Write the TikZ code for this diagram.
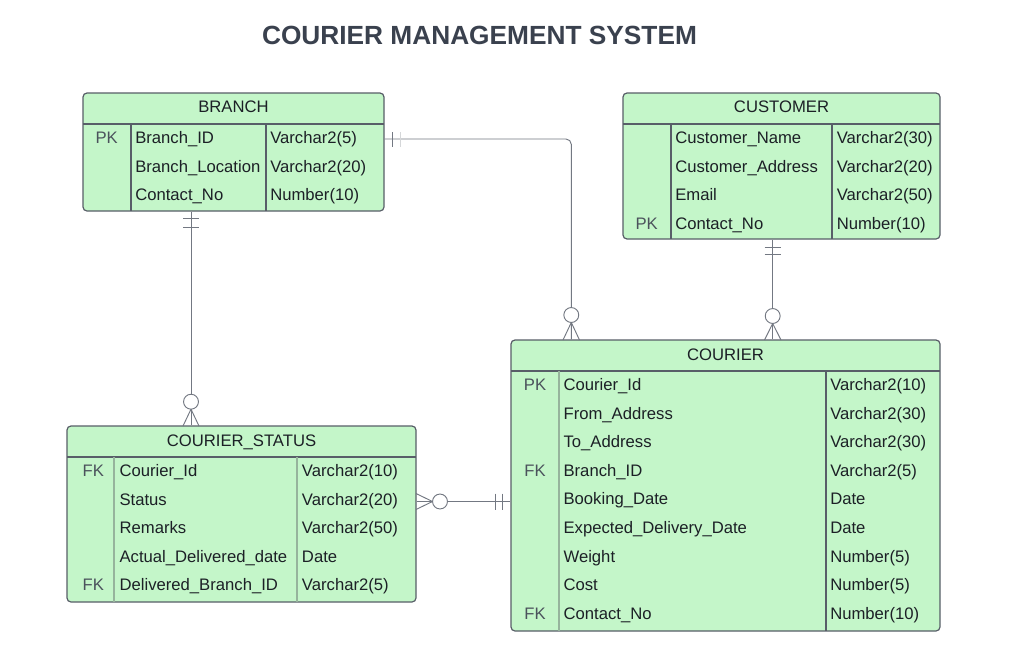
\documentclass[tikz,border=0pt]{standalone}
\usepackage{fontspec}
\setmainfont{Liberation Sans}
\usetikzlibrary{fit}
\definecolor{tblfill}{RGB}{196,246,201}
\definecolor{tblline}{RGB}{88,94,104}
\definecolor{faint}{RGB}{150,180,156}
\definecolor{connc}{RGB}{115,120,130}
\definecolor{txt}{RGB}{28,32,38}
\definecolor{keytxt}{RGB}{75,82,92}
\definecolor{titlec}{RGB}{58,65,78}
\begin{document}
\begin{tikzpicture}[x=0.75pt,y=-0.75pt,
  font=\fontsize{12.5}{15}\selectfont,
  tbl/.style={draw=tblline, fill=tblfill, line width=0.9pt, rounded corners=3pt, inner sep=0pt},
  sep/.style={draw=tblline, line width=0.8pt},
  fsep/.style={draw=faint, line width=0.8pt},
  ktext/.style={anchor=base, inner sep=0pt, text=keytxt},
  ntext/.style={anchor=base west, inner sep=0pt, text=txt},
  htext/.style={anchor=base, inner sep=0pt, text=txt},
  conn/.style={draw=connc, line width=0.7pt},
  bar/.style={draw=connc, line width=0.7pt},
  ring/.style={draw=connc, line width=0.7pt, fill=white}
]
\fill[white] (0,0) rectangle (1015,661);
\useasboundingbox (0,0) rectangle (1015,661);

% title
\node[font={\fontsize{19.7}{24}\selectfont\bfseries}, text=titlec, anchor=base, inner sep=0pt] (title) at (479.5,44) {COURIER MANAGEMENT SYSTEM};

% ---------- BRANCH ----------
\node[tbl, fit={(83,93)(384,211)}] (branch) {};
\draw[sep] (83,124) -- (384,124);
\draw[sep] (131,124) -- (131,211);
\draw[sep] (266,124) -- (266,211);
\node[htext] (branch-h) at (233.5,112.5) {BRANCH};
\foreach \k/\n/\t [count=\i] in {PK/Branch\_ID/Varchar2(5), /Branch\_Location/Varchar2(20), /Contact\_No/Number(10)} {
  \pgfmathsetmacro\yy{143.5+(\i-1)*28.6}
  \node[ktext] (br-k\i) at (106.7,\yy) {\k};
  \node[ntext] (br-n\i) at (135,\yy) {\n};
  \node[ntext] (br-t\i) at (270,\yy) {\t};
}

% ---------- CUSTOMER ----------
\node[tbl, fit={(623,93)(940,239)}] (customer) {};
\draw[sep] (623,124) -- (940,124);
\draw[sep] (671,124) -- (671,239);
\draw[sep] (832,124) -- (832,239);
\node[htext] (customer-h) at (781.5,112.5) {CUSTOMER};
\foreach \k/\n/\t [count=\i] in {/Customer\_Name/Varchar2(30), /Customer\_Address/Varchar2(20), /Email/Varchar2(50), PK/Contact\_No/Number(10)} {
  \pgfmathsetmacro\yy{143.5+(\i-1)*28.6}
  \node[ktext] (cu-k\i) at (646.7,\yy) {\k};
  \node[ntext] (cu-n\i) at (675,\yy) {\n};
  \node[ntext] (cu-t\i) at (836.5,\yy) {\t};
}

% ---------- COURIER ----------
\node[tbl, fit={(511,340)(940,631)}] (courier) {};
\draw[sep] (511,371) -- (940,371);
\draw[fsep] (559,371) -- (559,631);
\draw[sep] (826,371) -- (826,631);
\node[htext] (courier-h) at (725.5,360) {COURIER};
\foreach \k/\n/\t [count=\i] in {PK/Courier\_Id/Varchar2(10), /From\_Address/Varchar2(30), /To\_Address/Varchar2(30), FK/Branch\_ID/Varchar2(5), /Booking\_Date/Date, /Expected\_Delivery\_Date/Date, /Weight/Number(5), /Cost/Number(5), FK/Contact\_No/Number(10)} {
  \pgfmathsetmacro\yy{390.5+(\i-1)*28.6}
  \node[ktext] (co-k\i) at (535,\yy) {\k};
  \node[ntext] (co-n\i) at (563.3,\yy) {\n};
  \node[ntext] (co-t\i) at (830,\yy) {\t};
}

% ---------- COURIER_STATUS ----------
\node[tbl, fit={(67,426)(416,602)}] (status) {};
\draw[sep] (67,457) -- (416,457);
\draw[fsep] (114,457) -- (114,602);
\draw[fsep] (297,457) -- (297,602);
\node[htext] (status-h) at (241.5,446) {COURIER\_STATUS};
\foreach \k/\n/\t [count=\i] in {FK/Courier\_Id/Varchar2(10), /Status/Varchar2(20), /Remarks/Varchar2(50), /Actual\_Delivered\_date/Date, FK/Delivered\_Branch\_ID/Varchar2(5)} {
  \pgfmathsetmacro\yy{476.5+(\i-1)*28.6}
  \node[ktext] (st-k\i) at (93.3,\yy) {\k};
  \node[ntext] (st-n\i) at (119.3,\yy) {\n};
  \node[ntext] (st-t\i) at (301.7,\yy) {\t};
}

% ---------- connectors ----------
\coordinate (x1) at (571.3,0);
\coordinate (y1) at (0,139);
\coordinate (x2) at (772.7,0);
\coordinate (x3) at (191,0);
\coordinate (y4) at (0,501.5);

% BRANCH -- COURIER
\draw[conn, rounded corners=4pt] (branch.east |- y1) -- (x1 |- y1) -- (x1 |- courier.north);
\draw[bar] (392.5,132) -- (392.5,147);
\draw[draw=connc!30, line width=0.6pt] (400,132) -- (400,147);
\draw[ring] (571.3,315) circle[radius=5.6pt];
\draw[conn] (571.3,322.5) -- (563,340) (571.3,322.5) -- (579.5,340);

% CUSTOMER -- COURIER
\draw[conn] (x2 |- customer.south) -- (x2 |- courier.north);
\draw[bar] (764.7,247) -- (780.7,247) (764.7,254) -- (780.7,254);
\draw[ring] (772.7,316) circle[radius=5.6pt];
\draw[conn] (772.7,323.5) -- (764.5,340) (772.7,323.5) -- (781,340);

% BRANCH -- COURIER_STATUS
\draw[conn] (x3 |- branch.south) -- (x3 |- status.north);
\draw[bar] (183,218.3) -- (199,218.3) (183,227.3) -- (199,227.3);
\draw[ring] (191,401.7) circle[radius=5.6pt];
\draw[conn] (191,409.2) -- (183,426) (191,409.2) -- (199,426);

% COURIER_STATUS -- COURIER
\draw[conn] (status.east |- y4) -- (courier.west |- y4);
\draw[bar] (495,493.5) -- (495,509.5) (502,493.5) -- (502,509.5);
\draw[ring] (440,501.5) circle[radius=5.6pt];
\draw[conn] (432.5,501.5) -- (416,493.5) (432.5,501.5) -- (416,509.5);
\end{tikzpicture}
\end{document}
